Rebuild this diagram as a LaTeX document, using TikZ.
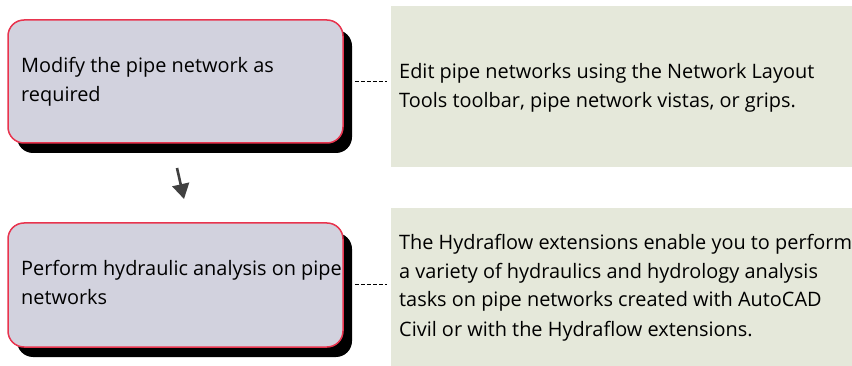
\documentclass[tikz,border=0pt]{standalone}
\usepackage{fontspec}
\setmainfont{Open Sans}
\usetikzlibrary{arrows.meta,shadows,calc}
\definecolor{stepfill}{HTML}{D2D2DE}
\definecolor{stepline}{HTML}{E8344E}
\definecolor{notefill}{HTML}{E5E8DA}
\definecolor{arrowgray}{HTML}{404040}
\begin{document}
\begin{tikzpicture}[x=1pt,y=-1pt,
  stepbox/.style={draw=stepline, line width=1.5pt, fill=stepfill, rounded corners=16pt,
    minimum width=335pt, minimum height=123pt, inner sep=0pt,
    drop shadow={shadow xshift=9pt, shadow yshift=-10pt, fill=black, opacity=1}},
  notebox/.style={fill=notefill, minimum width=461pt, inner sep=0pt},
  txt/.style={font=\fontsize{19.9}{29}\selectfont, align=left, inner sep=0pt, anchor=base west},
  link/.style={draw=black, line width=1pt, dash pattern=on 4pt off 2pt},
  flow/.style={draw=arrowgray, line width=2.6pt, -{Triangle[width=17pt,length=15pt]}}]
\useasboundingbox (0,0) rectangle (852,366);
% right note panels
\node[notebox, minimum height=161pt] (r1) at (621.5,86.5) {};
\node[notebox, minimum height=158pt] (r2) at (621.5,287) {};
% step boxes
\node[stepbox] (m1) at (175.5,81.5) {};
\node[stepbox, minimum height=124pt] (m2) at (175.5,285) {};
% texts (anchored at the baseline of the last line)
\node[txt] (m1t) at (21,102) {Modify the pipe network as\\required};
\node[txt] (m2t) at (21,305) {Perform hydraulic analysis on pipe\\networks};
\node[txt] (r1t) at (399,107.5) {Edit pipe networks using the Network Layout\\Tools toolbar, pipe network vistas, or grips.};
\node[txt] (r2t) at (399,336) {The Hydraflow extensions enable you to perform\\a variety of hydraulics and hydrology analysis\\tasks on pipe networks created with AutoCAD\\Civil or with the Hydraflow extensions.};
% connectors
\draw[link] ([xshift=11pt]m1.east) -- ([xshift=-4pt]r1.west |- m1.east);
\draw[link] ([xshift=11pt]m2.east) -- ([xshift=-4pt]r2.west |- m2.east);
\coordinate (a0) at (177,168);
\coordinate (a1) at (184,199);
\draw[flow] (a0) -- (a1);
\end{tikzpicture}
\end{document}
